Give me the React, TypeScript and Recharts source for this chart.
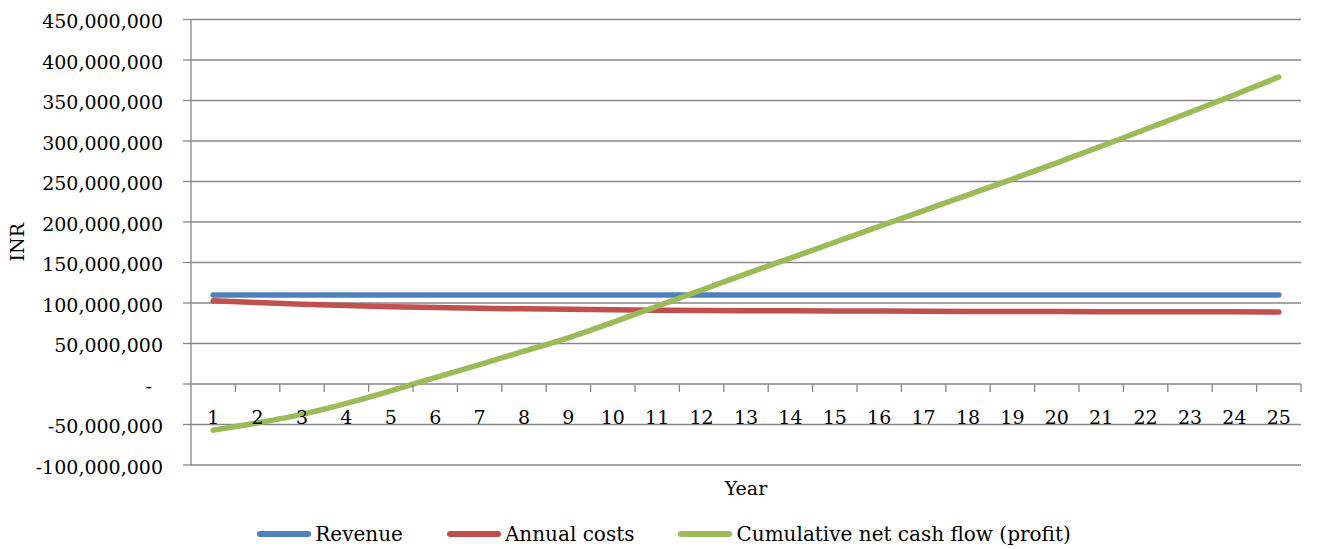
import React from "react"
import { LineChart, Line, XAxis, YAxis, CartesianGrid, Legend } from "recharts"

// Years on the category axis
const YEARS = [1, 2, 3, 4, 5, 6, 7, 8, 9, 10, 11, 12, 13, 14, 15, 16, 17, 18, 19, 20, 21, 22, 23, 24, 25]

// Values in million INR
const REVENUE = [110, 110, 110, 110, 110, 110, 110, 110, 110, 110, 110, 110, 110, 110, 110, 110, 110, 110, 110, 110, 110, 110, 110, 110, 110]
const ANNUAL_COSTS = [102.7, 100.5, 98.5, 97, 95.5, 94.5, 93.5, 92.8, 92.2, 91.6, 91.2, 90.8, 90.5, 90.3, 90.1, 90, 89.8, 89.6, 89.5, 89.4, 89.3, 89.2, 89.1, 89.1, 89]
const CUMULATIVE = [-57, -48, -37.5, -24, -8.5, 8, 24, 40.5, 57, 76, 96, 116, 136, 155.5, 175, 194.5, 214, 233.5, 253, 273, 293.5, 314.5, 335.5, 357, 379]

const SERIES_NAMES = ["Revenue", "Annual costs", "Cumulative net cash flow (profit)"]
const Y_TICKS = [-100e6, -50e6, 0, 50e6, 100e6, 150e6, 200e6, 250e6, 300e6, 350e6, 400e6, 450e6]

const data = YEARS.map((year, i) => ({
  year,
  revenue: REVENUE[i] * 1e6,
  costs: ANNUAL_COSTS[i] * 1e6,
  cumulative: CUMULATIVE[i] * 1e6,
}))

const FONT = "'DejaVu Serif', serif"
const FONT_SIZE = 19
const GRID = "#878787"

// layout of the plot area
const W = 1317
const H = 549
const PLOT_LEFT = 191
const PLOT_TOP = 19.5
const PLOT_RIGHT = 1301
const PLOT_BOTTOM = 465
const PLOT_W = PLOT_RIGHT - PLOT_LEFT
const PLOT_H = PLOT_BOTTOM - PLOT_TOP
const STEP = PLOT_W / YEARS.length
const Y_MIN = Y_TICKS[0]
const Y_MAX = Y_TICKS[Y_TICKS.length - 1]
// the category axis crosses at zero
const ZERO_Y = PLOT_TOP + (PLOT_H * Y_MAX) / (Y_MAX - Y_MIN)

const XTick = ({ x, payload }: any) => (
  <g>
    <line x1={x + STEP / 2} x2={x + STEP / 2} y1={ZERO_Y} y2={ZERO_Y + 8} stroke={GRID} strokeWidth={1.3} />
    <text x={x} y={ZERO_Y + 39.5} textAnchor="middle" fontFamily={FONT} fontSize={FONT_SIZE} fill="#000">
      {payload.value}
    </text>
  </g>
)

const YTick = ({ x, y, payload }: any) => {
  const v = payload.value
  const label = v === 0 ? "-" : v.toLocaleString("en-US")
  return (
    <text x={v === 0 ? x - 11 : x} y={y} dy="0.46em" textAnchor="end" fontFamily={FONT} fontSize={FONT_SIZE} fill="#000">
      {label}
    </text>
  )
}

const InrLabel = ({ viewBox }: any) => {
  const cx = viewBox.x + 24
  const cy = PLOT_TOP + PLOT_H / 2
  return (
    <text x={cx} y={cy} transform={`rotate(-90, ${cx}, ${cy})`} textAnchor="middle" fontFamily={FONT} fontSize={FONT_SIZE} fill="#000">
      INR
    </text>
  )
}

// keep the legend in series order
const LegendContent = ({ payload }: any) => {
  const items = [...(payload || [])].sort(
    (a: any, b: any) => SERIES_NAMES.indexOf(a.value) - SERIES_NAMES.indexOf(b.value)
  )
  return (
    <div
      style={{
        display: "flex",
        justifyContent: "center",
        alignItems: "center",
        height: 30,
        paddingLeft: 27,
        fontFamily: FONT,
        fontSize: 20,
        color: "#000",
      }}
    >
      {items.map((entry: any, i: number) => (
        <div key={i} style={{ display: "flex", alignItems: "center", marginLeft: i === 0 ? 0 : 44 }}>
          <span style={{ display: "inline-block", width: 54, height: 6, borderRadius: 3, background: entry.color }} />
          <span style={{ marginLeft: 4 }}>{entry.value}</span>
        </div>
      ))}
    </div>
  )
}

export default function App() {
  return (
    <div style={{ position: "absolute", left: 0, top: 0, width: W, height: H, background: "#fff" }}>
      <LineChart
        width={W}
        height={H}
        data={data}
        margin={{ top: PLOT_TOP, right: W - PLOT_RIGHT, left: 0, bottom: 0 }}
      >
        <CartesianGrid vertical={false} stroke={GRID} strokeWidth={1.3} />
        <XAxis
          dataKey="year"
          type="category"
          interval={0}
          padding={{ left: STEP / 2, right: STEP / 2 }}
          axisLine={false}
          tickLine={false}
          tick={<XTick />}
          height={54}
          label={{ value: "Year", position: "insideBottom", offset: 24, fontFamily: FONT, fontSize: FONT_SIZE, fill: "#000" }}
        />
        <YAxis
          width={PLOT_LEFT}
          domain={[Y_MIN, Y_MAX]}
          ticks={Y_TICKS}
          interval={0}
          axisLine={{ stroke: GRID, strokeWidth: 1.3 }}
          tickLine={{ stroke: GRID, strokeWidth: 1.3 }}
          tickSize={8}
          tickMargin={20}
          tick={<YTick />}
          label={<InrLabel />}
        />
        <Legend verticalAlign="bottom" height={30} content={<LegendContent />} />
        <Line
          type="linear"
          dataKey="revenue"
          name={SERIES_NAMES[0]}
          stroke="#4F81BD"
          strokeWidth={5.5}
          strokeLinecap="round"
          dot={false}
          isAnimationActive={false}
        />
        <Line
          type="linear"
          dataKey="costs"
          name={SERIES_NAMES[1]}
          stroke="#C0504D"
          strokeWidth={5.5}
          strokeLinecap="round"
          dot={false}
          isAnimationActive={false}
        />
        <Line
          type="monotone"
          dataKey="cumulative"
          name={SERIES_NAMES[2]}
          stroke="#9BBB59"
          strokeWidth={5.5}
          strokeLinecap="round"
          dot={false}
          isAnimationActive={false}
        />
      </LineChart>
    </div>
  )
}
